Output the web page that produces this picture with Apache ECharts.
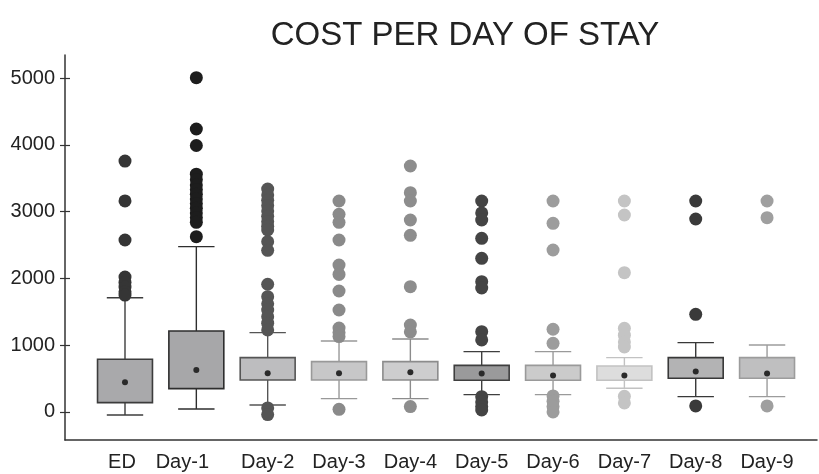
<!DOCTYPE html>
<html>
<head>
<meta charset="utf-8">
<script src="https://cdn.jsdelivr.net/npm/echarts@6/dist/echarts.min.js"></script>
<style>
html,body{margin:0;padding:0;background:#fff;}
#chart{width:819px;height:474px;}
</style>
</head>
<body>
<div id="chart"></div>
<script>
// ---- data ----
var categories = ['ED','Day-1','Day-2','Day-3','Day-4','Day-5','Day-6','Day-7','Day-8','Day-9'];
var whiskerLow  = [-45, 45, 105, 200, 200, 259, 259, 354, 229, 229];
var q1          = [139, 349, 479, 479, 479, 474, 474, 474, 504, 504];
var q3          = [789, 1213, 813, 753, 753, 698, 698, 689, 813, 813];
var whiskerHigh = [1711, 2475, 1188, 1063, 1093, 903, 903, 813, 1038, 1003];
var means       = [444, 629, 579, 579, 594, 574, 544, 544, 604, 574];
var outliers = [
  [3757, 3160, 2575, 2020, 1940, 1870, 1800, 1750],
  [5005, 4237, 3990, 3560, 3480, 3400, 3330, 3260, 3190, 3120, 3050, 2980, 2910, 2840, 2625],
  [3338, 3250, 3170, 3090, 3010, 2930, 2850, 2780, 2725, 2550, 2420, 1912, 1726, 1620, 1527, 1427, 1330, 1228, 60, -40],
  [3159, 2960, 2840, 2575, 2200, 2060, 1811, 1527, 1257, 1190, 1128, 40],
  [3683, 3283, 3159, 2874, 2645, 1876, 1302, 1200, 80],
  [3159, 2980, 2874, 2600, 2300, 1951, 1856, 1202, 1078, 229, 150, 80, 30],
  [3159, 2824, 2425, 1238, 1028, 240, 160, 80, 0],
  [3159, 2949, 2086, 1253, 1150, 1048, 973, 235, 135],
  [3159, 2889, 1462, 90],
  [3159, 2909, 90]
];
var yTicks = [0, 1000, 2000, 3000, 4000, 5000];

// ---- styles ----
var boxFill   = ['#a9a9ab','#a7a7a9','#bdbdbf','#c7c7c8','#cdcdce','#9a9a9b','#cbcbcb','#dddddd','#b3b3b4','#bfbfc0'];
var boxBorder = ['#3c3c3c','#2e2e2e','#555555','#999999','#8c8c8c','#3f3f3f','#9a9a9a','#c2c2c2','#383838','#9c9c9c'];
var outColor  = ['#353535','#1d1d1d','#555555','#8a8a8a','#8d8d8d','#444444','#9c9c9c','#c4c4c4','#3a3a3a','#9f9f9f'];

var boxData = categories.map(function (c, i) {
  return [i, whiskerLow[i], q1[i], q3[i], whiskerHigh[i]];
});
var meanData = categories.map(function (c, i) { return [i, means[i]]; });
var outData = [];
outliers.forEach(function (arr, i) {
  arr.forEach(function (v) { outData.push([i, v]); });
});

var FONT = '"Liberation Sans", Arial, Helvetica, sans-serif';

var chart = echarts.init(document.getElementById('chart'), null, {renderer: 'canvas'});
chart.setOption({
  backgroundColor: '#ffffff',
  animation: false,
  title: {
    text: 'COST PER DAY OF STAY',
    left: 460, top: 14, textAlign: 'center',
    textStyle: {fontFamily: FONT, fontSize: 33, fontWeight: 'normal', color: '#222'}
  },
  grid: {left: 65, right: 2, top: 55, bottom: 34, containLabel: false},
  xAxis: {
    type: 'value', min: -0.841, max: 9.70,
    splitLine: {show: false},
    axisLine: {show: true, onZero: false, lineStyle: {color: '#333', width: 1.5}},
    axisTick: {show: false},
    axisLabel: {
      customValues: categories.map(function (c, i) { return i; }),
      margin: 12,
      fontFamily: FONT, fontSize: 20, color: '#222',
      formatter: function (v) {
        var i = Math.round(v);
        if (i === 1) return '{s1|' + categories[i] + '}';
        if (i === 0) return '{s0|' + categories[i] + '}';
        return categories[i];
      },
      rich: {
        s1: {fontFamily: FONT, fontSize: 20, color: '#222', padding: [0, 28, 0, 0]},
        s0: {fontFamily: FONT, fontSize: 20, color: '#222', padding: [0, 6, 0, 0]}
      }
    }
  },
  yAxis: [{
    type: 'value', min: -420, max: 5345,
    splitLine: {show: false},
    axisLine: {show: true, onZero: false, lineStyle: {color: '#333', width: 1.5}},
    axisTick: {show: true, customValues: yTicks, length: 5, lineStyle: {color: '#333', width: 1.2}},
    axisLabel: {customValues: yTicks, margin: 10, fontFamily: FONT, fontSize: 20, color: '#222',
      formatter: function (v) { return String(v); }}
  }, {
    type: 'value', min: -420, max: 5345, position: 'left',
    splitLine: {show: false},
    axisLine: {show: false, onZero: false},
    axisTick: {show: true, inside: true, customValues: yTicks, length: 5, lineStyle: {color: '#333', width: 1.2}},
    axisLabel: {show: false}
  }],
  series: [{
    type: 'custom',
    data: boxData,
    encode: {x: 0, y: [1, 2, 3, 4]},
    renderItem: function (params, api) {
      var i = api.value(0);
      var band = api.size([1, 0])[0];
      var bw = band * 0.77, cw = band * 0.51;
      var pLow = api.coord([i, api.value(1)]);
      var pQ1 = api.coord([i, api.value(2)]);
      var pQ3 = api.coord([i, api.value(3)]);
      var pHigh = api.coord([i, api.value(4)]);
      var x = pLow[0];
      var col = boxBorder[i];
      var ls = {stroke: col, lineWidth: 1.4};
      return {
        type: 'group',
        children: [
          {type: 'line', shape: {x1: x, y1: pLow[1], x2: x, y2: pQ1[1]}, style: ls},
          {type: 'line', shape: {x1: x, y1: pQ3[1], x2: x, y2: pHigh[1]}, style: ls},
          {type: 'line', shape: {x1: x - cw / 2, y1: pLow[1], x2: x + cw / 2, y2: pLow[1]}, style: ls},
          {type: 'line', shape: {x1: x - cw / 2, y1: pHigh[1], x2: x + cw / 2, y2: pHigh[1]}, style: ls},
          {type: 'rect', shape: {x: x - bw / 2, y: pQ3[1], width: bw, height: pQ1[1] - pQ3[1]},
            style: {fill: boxFill[i], stroke: col, lineWidth: 1.6}}
        ]
      };
    },
    z: 2
  }, {
    type: 'scatter',
    data: meanData,
    symbolSize: 6,
    itemStyle: {color: '#2a2a2a', opacity: 1},
    z: 4
  }, {
    type: 'scatter',
    data: outData,
    symbolSize: 13,
    itemStyle: {
      opacity: 1,
      color: function (p) { return outColor[p.value[0]]; }
    },
    z: 3
  }]
});
</script>
</body>
</html>
